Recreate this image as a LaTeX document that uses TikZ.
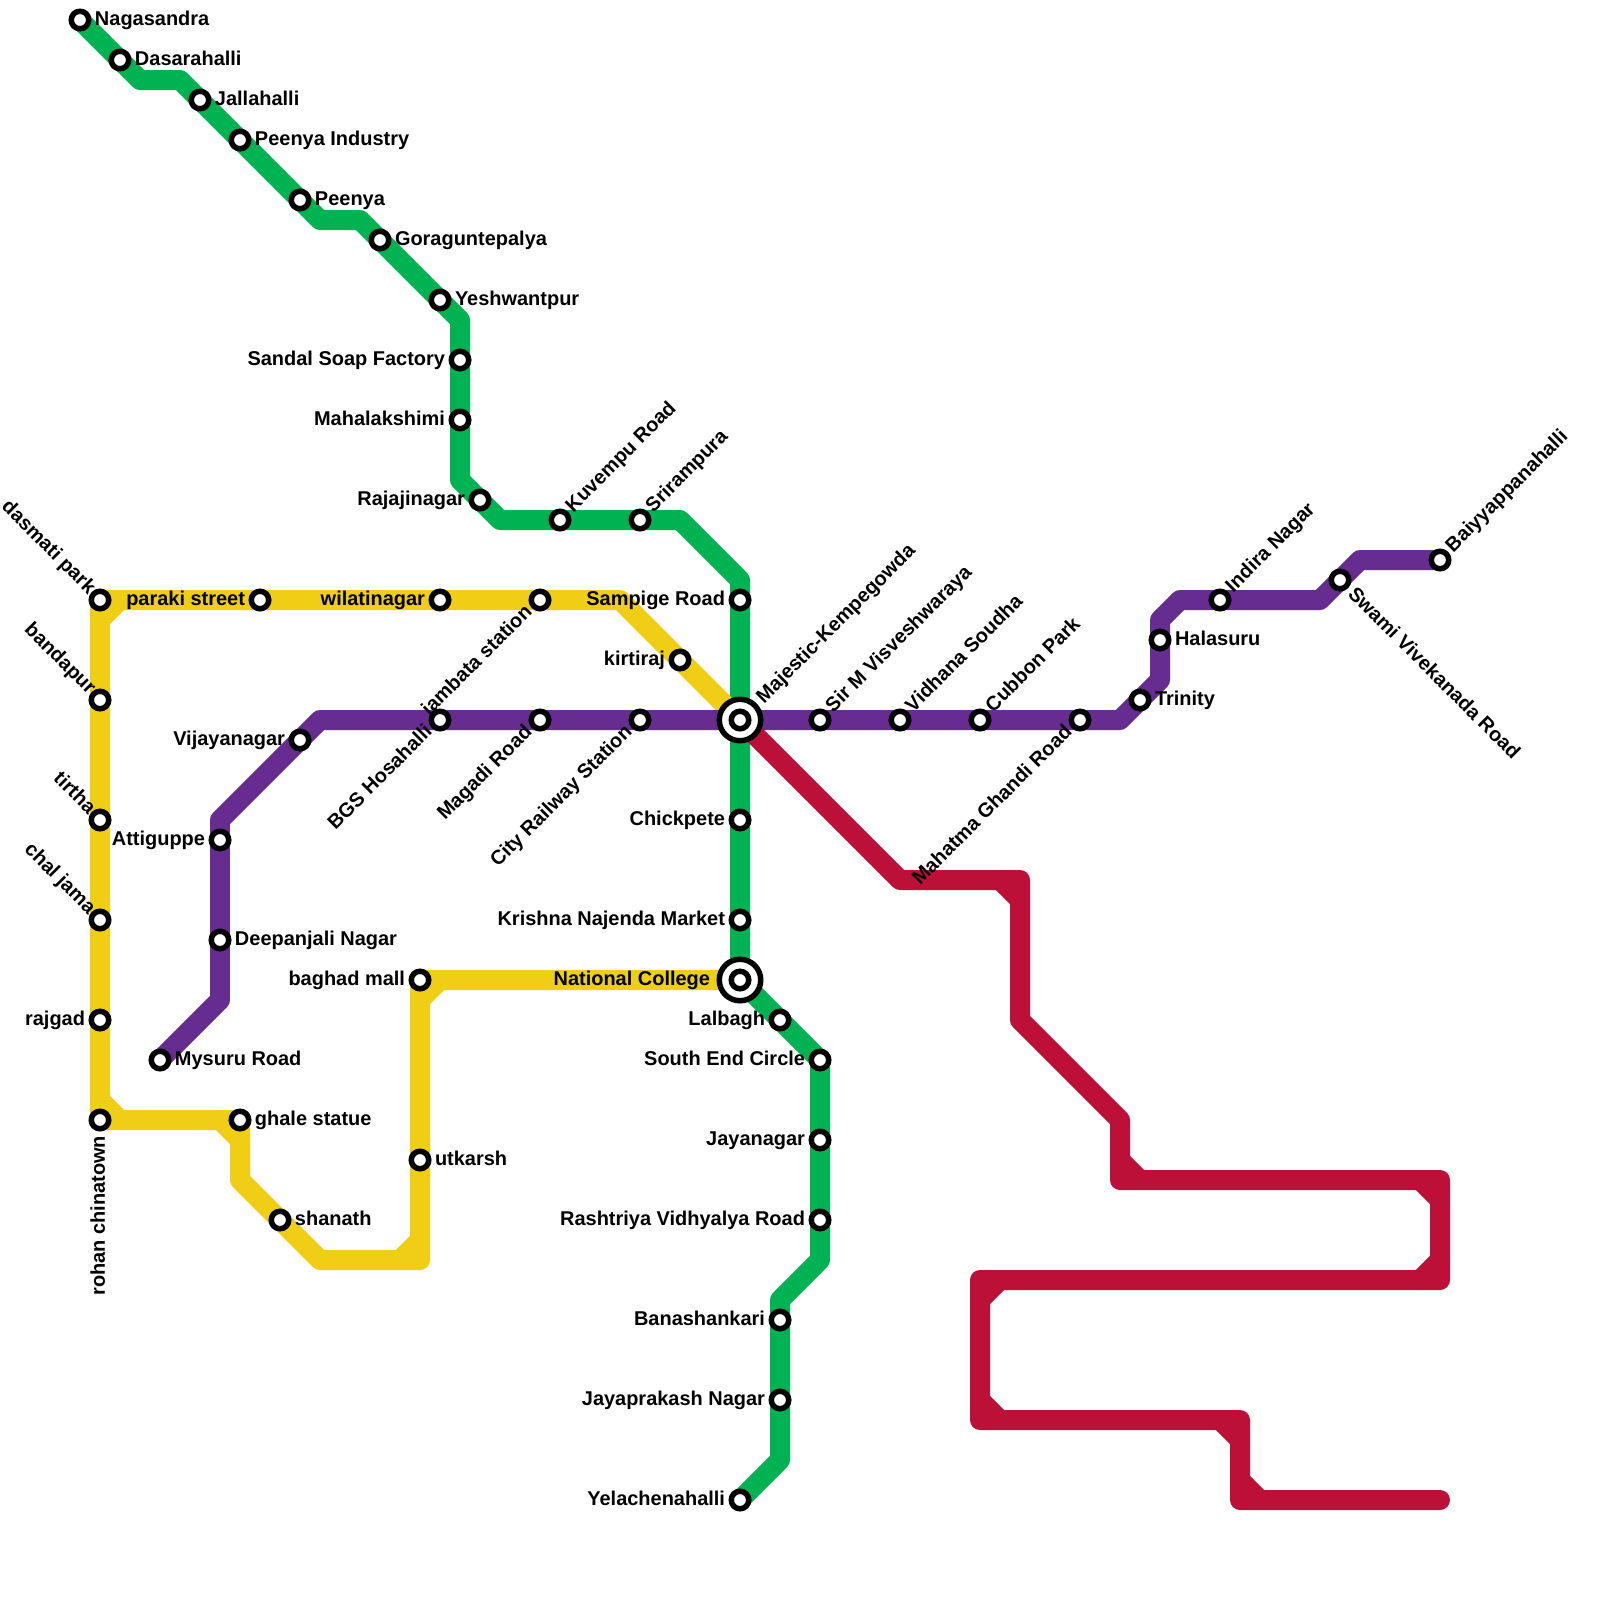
\documentclass[tikz,border=0pt]{standalone}
\usepackage{fontspec}
\setmainfont{Liberation Sans}
\usetikzlibrary{backgrounds}
\definecolor{lgreen}{HTML}{00B251}
\definecolor{lpurple}{HTML}{662C90}
\definecolor{lyellow}{HTML}{F0CE15}
\definecolor{lred}{HTML}{BD1038}
\newlength{\pxu}\setlength{\pxu}{0.025cm}
\tikzset{
  metro/.style={line width=20\pxu,line join=round,line cap=round},
  st/.style={circle,draw=black,fill=white,line width=5.5\pxu,minimum size=17.5\pxu,inner sep=0pt,outer sep=0pt},
  hub/.style={circle,draw=black,fill=white,line width=5.5\pxu,minimum size=41.5\pxu,inner sep=0pt,outer sep=0pt},
  lab/.style={font=\bfseries\fontsize{14.2pt}{16pt}\selectfont,inner sep=0pt,outer sep=0pt,text=black},
  rl/.style={lab,anchor=base west,xshift=15\pxu,yshift=-5\pxu},
  ll/.style={lab,anchor=base east,xshift=-15\pxu,yshift=-5\pxu},
  hl/.style={lab,anchor=base east,xshift=-30\pxu,yshift=-5\pxu},
  ur/.style={lab,xshift=13.4\pxu,yshift=7\pxu,rotate=45,anchor=base west},
  hur/.style={lab,xshift=24\pxu,yshift=15.7\pxu,rotate=45,anchor=base west},
  dl/.style={lab,xshift=-7\pxu,yshift=-13\pxu,rotate=45,anchor=base east},
  ul/.style={lab,xshift=-12\pxu,yshift=5\pxu,rotate=-45,anchor=base east},
  dr/.style={lab,xshift=7\pxu,yshift=-15\pxu,rotate=-45,anchor=base west},
  dv/.style={lab,xshift=5\pxu,yshift=-16\pxu,rotate=90,anchor=base east},
}
\begin{document}
\begin{tikzpicture}[x=0.5cm,y=-0.5cm]
\useasboundingbox (0,0) rectangle (80,80);
% green stations
\node[st] (nagasandra) at (4,1) {};
\node[st] (dasarahalli) at (6,3) {};
\node[st] (jallahalli) at (10,5) {};
\node[st] (peenyaind) at (12,7) {};
\node[st] (peenya) at (15,10) {};
\node[st] (gorag) at (19,12) {};
\node[st] (yeshwantpur) at (22,15) {};
\node[st] (sandal) at (23,18) {};
\node[st] (mahalakshimi) at (23,21) {};
\node[st] (rajajinagar) at (24,25) {};
\node[st] (kuvempu) at (28,26) {};
\node[st] (srirampura) at (32,26) {};
\node[st] (sampige) at (37,30) {};
\node[hub] (majesticO) at (37,36) {};
\node[st] (majestic) at (37,36) {};
\node[st] (chickpete) at (37,41) {};
\node[st] (krishna) at (37,46) {};
\node[hub] (nationalO) at (37,49) {};
\node[st] (national) at (37,49) {};
\node[st] (lalbagh) at (39,51) {};
\node[st] (southend) at (41,53) {};
\node[st] (jayanagar) at (41,57) {};
\node[st] (rashtriya) at (41,61) {};
\node[st] (banashankari) at (39,66) {};
\node[st] (jayaprakash) at (39,70) {};
\node[st] (yelachenahalli) at (37,75) {};
% purple stations
\node[st] (mysuru) at (8,53) {};
\node[st] (deepanjali) at (11,47) {};
\node[st] (attiguppe) at (11,42) {};
\node[st] (vijayanagar) at (15,37) {};
\node[st] (bgs) at (22,36) {};
\node[st] (magadi) at (27,36) {};
\node[st] (cityrail) at (32,36) {};
\node[st] (sirm) at (41,36) {};
\node[st] (vidhana) at (45,36) {};
\node[st] (cubbon) at (49,36) {};
\node[st] (mahatma) at (54,36) {};
\node[st] (trinity) at (57,35) {};
\node[st] (halasuru) at (58,32) {};
\node[st] (indira) at (61,30) {};
\node[st] (swami) at (67,29) {};
\node[st] (baiyy) at (72,28) {};
% yellow stations
\node[st] (dasmati) at (5,30) {};
\node[st] (paraki) at (13,30) {};
\node[st] (wilati) at (22,30) {};
\node[st] (jambata) at (27,30) {};
\node[st] (kirtiraj) at (34,33) {};
\node[st] (bandapur) at (5,35) {};
\node[st] (tirtha) at (5,41) {};
\node[st] (chaljama) at (5,46) {};
\node[st] (rajgad) at (5,51) {};
\node[st] (rohan) at (5,56) {};
\node[st] (ghale) at (12,56) {};
\node[st] (shanath) at (14,61) {};
\node[st] (utkarsh) at (21,58) {};
\node[st] (baghad) at (21,49) {};
% labels
\node[rl] (tNagasandra) at (nagasandra) {Nagasandra};
\node[rl] (tDasarahalli) at (dasarahalli) {Dasarahalli};
\node[rl] (tJallahalli) at (jallahalli) {Jallahalli};
\node[rl] (tPeenyaInd) at (peenyaind) {Peenya Industry};
\node[rl] (tPeenya) at (peenya) {Peenya};
\node[rl] (tGorag) at (gorag) {Goraguntepalya};
\node[rl] (tYesh) at (yeshwantpur) {Yeshwantpur};
\node[ll] (tSandal) at (sandal) {Sandal Soap Factory};
\node[ll] (tMaha) at (mahalakshimi) {Mahalakshimi};
\node[ll] (tRaja) at (rajajinagar) {Rajajinagar};
\node[ur] (tKuvempu) at (kuvempu) {Kuvempu Road};
\node[ur] (tSrira) at (srirampura) {Srirampura};
\node[ll] (tSampige) at (sampige) {Sampige Road};
\node[hur] (tMajestic) at (majestic) {Majestic-Kempegowda};
\node[ll] (tChick) at (chickpete) {Chickpete};
\node[ll] (tKrishna) at (krishna) {Krishna Najenda Market};
\node[hl] (tNational) at (national) {National College};
\node[ll] (tLalbagh) at (lalbagh) {Lalbagh};
\node[ll] (tSouth) at (southend) {South End Circle};
\node[ll] (tJaya) at (jayanagar) {Jayanagar};
\node[ll] (tRash) at (rashtriya) {Rashtriya Vidhyalya Road};
\node[ll] (tBana) at (banashankari) {Banashankari};
\node[ll] (tJp) at (jayaprakash) {Jayaprakash Nagar};
\node[ll] (tYela) at (yelachenahalli) {Yelachenahalli};
\node[rl] (tMysuru) at (mysuru) {Mysuru Road};
\node[rl] (tDeep) at (deepanjali) {Deepanjali Nagar};
\node[ll] (tAtti) at (attiguppe) {Attiguppe};
\node[ll] (tVija) at (vijayanagar) {Vijayanagar};
\node[dl] (tBgs) at (bgs) {BGS Hosahalli};
\node[dl] (tMagadi) at (magadi) {Magadi Road};
\node[dl] (tCity) at (cityrail) {City Railway Station};
\node[ur] (tSirm) at (sirm) {Sir M Visveshwaraya};
\node[ur] (tVidhana) at (vidhana) {Vidhana Soudha};
\node[ur] (tCubbon) at (cubbon) {Cubbon Park};
\node[dl] (tMahatma) at (mahatma) {Mahatma Ghandi Road};
\node[rl] (tTrinity) at (trinity) {Trinity};
\node[rl] (tHala) at (halasuru) {Halasuru};
\node[ur] (tIndira) at (indira) {Indira Nagar};
\node[dr] (tSwami) at (swami) {Swami Vivekanada Road};
\node[ur] (tBaiyy) at (baiyy) {Baiyyappanahalli};
\node[ul] (tDasmati) at (dasmati) {dasmati park};
\node[ll] (tParaki) at (paraki) {paraki street};
\node[ll] (tWilati) at (wilati) {wilatinagar};
\node[dl] (tJambata) at (jambata) {jambata station};
\node[ll] (tKirti) at (kirtiraj) {kirtiraj};
\node[ul] (tBanda) at (bandapur) {bandapur};
\node[ul] (tTirtha) at (tirtha) {tirtha};
\node[ul] (tChal) at (chaljama) {chal jama};
\node[ll] (tRajgad) at (rajgad) {rajgad};
\node[dv] (tRohan) at (rohan) {rohan chinatown};
\node[rl] (tGhale) at (ghale) {ghale statue};
\node[rl] (tShanath) at (shanath) {shanath};
\node[rl] (tUtkarsh) at (utkarsh) {utkarsh};
\node[ll] (tBaghad) at (baghad) {baghad mall};
% bend points
\coordinate (g1) at (7,4); \coordinate (g2) at (9,4); \coordinate (g3) at (16,11); \coordinate (g4) at (18,11);
\coordinate (g5) at (23,16); \coordinate (g6) at (23,24); \coordinate (g7) at (25,26); \coordinate (g8) at (34,26);
\coordinate (g9) at (37,29); \coordinate (g10) at (41,63); \coordinate (g11) at (39,65); \coordinate (g12) at (39,73);
\coordinate (p1) at (11,50); \coordinate (p2) at (11,41); \coordinate (p3) at (16,36); \coordinate (p4) at (56,36);
\coordinate (p5) at (58,34); \coordinate (p6) at (58,31); \coordinate (p7) at (59,30); \coordinate (p8) at (66,30);
\coordinate (p9) at (68,28);
\coordinate (y1) at (31,30); \coordinate (y2) at (6,30); \coordinate (y3) at (5,31); \coordinate (y4) at (5,55);
\coordinate (y5) at (6,56); \coordinate (y6) at (11,56); \coordinate (y7) at (12,57); \coordinate (y8) at (12,59);
\coordinate (y9) at (16,63); \coordinate (y10) at (21,63); \coordinate (y11) at (20,63); \coordinate (y12) at (21,62);
\coordinate (y13) at (21,50); \coordinate (y14) at (22,49);
\coordinate (r1) at (45,44); \coordinate (r2) at (51,44); \coordinate (r3) at (50,44); \coordinate (r4) at (51,45);
\coordinate (r5) at (51,51); \coordinate (r6) at (56,56); \coordinate (r7) at (56,59); \coordinate (r8) at (56,58);
\coordinate (r9) at (57,59); \coordinate (r10) at (72,59); \coordinate (r11) at (71,59); \coordinate (r12) at (72,60);
\coordinate (r13) at (72,64); \coordinate (r14) at (72,63); \coordinate (r15) at (71,64); \coordinate (r16) at (49,64);
\coordinate (r17) at (49,65); \coordinate (r18) at (50,64); \coordinate (r19) at (49,71); \coordinate (r20) at (49,70);
\coordinate (r21) at (50,71); \coordinate (r22) at (62,71); \coordinate (r23) at (61,71); \coordinate (r24) at (62,72);
\coordinate (r25) at (62,75); \coordinate (r26) at (62,74); \coordinate (r27) at (63,75); \coordinate (r28) at (72,75);
\begin{pgfonlayer}{background}
\fill[white] (0,0) rectangle (80,80);
\draw[metro,lgreen] (nagasandra.center) -- (g1) -- (g2) -- (g3) -- (g4) -- (g5) -- (g6) -- (g7) -- (g8) -- (g9) -- (national.center) -- (southend.center) -- (g10) -- (g11) -- (g12) -- (yelachenahalli.center);
\draw[metro,lyellow] (majestic.center) -- (y1) -- (dasmati.center) -- (rohan.center) -- (ghale.center) -- (y8) -- (y9) -- (y10) -- (baghad.center) -- (national.center);
\draw[metro,lyellow] (y2) -- (y3);
\draw[metro,lyellow] (y4) -- (y5);
\draw[metro,lyellow] (y6) -- (y7);
\draw[metro,lyellow] (y11) -- (y12);
\draw[metro,lyellow] (y13) -- (y14);
\draw[metro,lpurple] (mysuru.center) -- (p1) -- (p2) -- (p3) -- (p4) -- (p5) -- (p6) -- (p7) -- (p8) -- (p9) -- (baiyy.center);
\draw[metro,lred] (majestic.center) -- (r1) -- (r2) -- (r5) -- (r6) -- (r7) -- (r10) -- (r13) -- (r16) -- (r19) -- (r22) -- (r25) -- (r28);
\draw[metro,lred] (r3) -- (r4);
\draw[metro,lred] (r8) -- (r9);
\draw[metro,lred] (r11) -- (r12);
\draw[metro,lred] (r14) -- (r15);
\draw[metro,lred] (r17) -- (r18);
\draw[metro,lred] (r20) -- (r21);
\draw[metro,lred] (r23) -- (r24);
\draw[metro,lred] (r26) -- (r27);
\end{pgfonlayer}
\end{tikzpicture}
\end{document}
